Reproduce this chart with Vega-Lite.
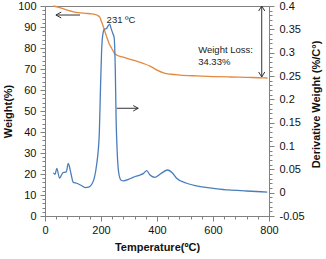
{
  "$schema": "https://vega.github.io/schema/vega-lite/v6.json",
  "width": 224,
  "height": 210,
  "autosize": "none",
  "padding": {"left": 45, "top": 6, "right": 57, "bottom": 43},
  "config": {
    "font": "Liberation Sans",
    "view": {"stroke": "#808080", "strokeWidth": 1},
    "axis": {
      "grid": false,
      "domainColor": "#808080",
      "tickColor": "#808080",
      "labelColor": "#111111",
      "labelFontSize": 11,
      "labelFont": "Liberation Sans",
      "titleFont": "Liberation Sans",
      "titleFontSize": 11,
      "titleFontWeight": "bold",
      "titleColor": "#111111"
    }
  },
  "datasets": {
    "tga": [
      {"T": 30, "W": 100}, {"T": 50, "W": 99.4}, {"T": 71, "W": 98.4}, {"T": 95, "W": 97.5},
      {"T": 119, "W": 96.8}, {"T": 145, "W": 96.5}, {"T": 167, "W": 96.3}, {"T": 185, "W": 95.7},
      {"T": 195, "W": 94.8}, {"T": 202, "W": 92.5}, {"T": 210, "W": 89.5}, {"T": 220, "W": 85.4},
      {"T": 230, "W": 81.8}, {"T": 238, "W": 79.9}, {"T": 248, "W": 77.5}, {"T": 256, "W": 76.7},
      {"T": 268, "W": 76}, {"T": 280, "W": 75.6}, {"T": 304, "W": 74.6}, {"T": 327, "W": 73.8},
      {"T": 350, "W": 72.7}, {"T": 375, "W": 71.4}, {"T": 400, "W": 69.5}, {"T": 423, "W": 68.2},
      {"T": 450, "W": 67.5}, {"T": 482, "W": 67.1}, {"T": 542, "W": 66.7}, {"T": 600, "W": 66.4},
      {"T": 661, "W": 66.2}, {"T": 720, "W": 66.0}, {"T": 780, "W": 65.8}, {"T": 795, "W": 65.7}
    ],
    "dtg": [
      {"T": 30, "D": 0.0427}, {"T": 36, "D": 0.0391}, {"T": 42, "D": 0.0522}, {"T": 52, "D": 0.031},
      {"T": 62, "D": 0.0414}, {"T": 69, "D": 0.0436}, {"T": 76, "D": 0.0445}, {"T": 83, "D": 0.0625},
      {"T": 93, "D": 0.04}, {"T": 101, "D": 0.022}, {"T": 113, "D": 0.0202}, {"T": 131, "D": 0.0148},
      {"T": 145, "D": 0.0108}, {"T": 155, "D": 0.0117}, {"T": 167, "D": 0.018}, {"T": 176, "D": 0.031},
      {"T": 185, "D": 0.0625}, {"T": 190, "D": 0.0895}, {"T": 194, "D": 0.128}, {"T": 198, "D": 0.22},
      {"T": 202, "D": 0.301}, {"T": 206, "D": 0.337}, {"T": 212, "D": 0.35}, {"T": 220, "D": 0.352},
      {"T": 227, "D": 0.359}, {"T": 231, "D": 0.3613}, {"T": 236, "D": 0.352}, {"T": 242, "D": 0.3415},
      {"T": 247, "D": 0.3325}, {"T": 251, "D": 0.265}, {"T": 254, "D": 0.157}, {"T": 258, "D": 0.085},
      {"T": 264, "D": 0.04}, {"T": 272, "D": 0.0265}, {"T": 280, "D": 0.0252}, {"T": 300, "D": 0.0288},
      {"T": 315, "D": 0.0328}, {"T": 339, "D": 0.0378}, {"T": 352, "D": 0.0414}, {"T": 363, "D": 0.0472},
      {"T": 375, "D": 0.0378}, {"T": 393, "D": 0.0328}, {"T": 415, "D": 0.0414}, {"T": 438, "D": 0.0486},
      {"T": 455, "D": 0.0423}, {"T": 470, "D": 0.031}, {"T": 506, "D": 0.0202}, {"T": 554, "D": 0.013},
      {"T": 601, "D": 0.0094}, {"T": 655, "D": 0.0058}, {"T": 720, "D": 0.0036}, {"T": 794, "D": 0.0013}
    ],
    "arrows": [
      {"id": "a1", "k": 0, "T": 125, "W": 95.7}, {"id": "a1", "k": 1, "T": 39, "W": 95.7},
      {"id": "a2", "k": 0, "T": 58, "W": 97.1}, {"id": "a2", "k": 1, "T": 39, "W": 95.7}, {"id": "a2", "k": 2, "T": 58, "W": 94.3},
      {"id": "a3", "k": 0, "T": 256, "W": 51.3}, {"id": "a3", "k": 1, "T": 333, "W": 51.3},
      {"id": "a4", "k": 0, "T": 315, "W": 52.6}, {"id": "a4", "k": 1, "T": 333, "W": 51.3}, {"id": "a4", "k": 2, "T": 315, "W": 50.0},
      {"id": "a5", "k": 0, "T": 774, "W": 100}, {"id": "a5", "k": 1, "T": 774, "W": 66.2},
      {"id": "a6", "k": 0, "T": 763, "W": 97.6}, {"id": "a6", "k": 1, "T": 774, "W": 100}, {"id": "a6", "k": 2, "T": 785, "W": 97.6},
      {"id": "a7", "k": 0, "T": 763, "W": 68.6}, {"id": "a7", "k": 1, "T": 774, "W": 66.2}, {"id": "a7", "k": 2, "T": 785, "W": 68.6}
    ],
    "notes": [
      {"T": 220, "W": 93.3, "text": "231 ºC"},
      {"T": 547, "W": 79.0, "text": "Weight Loss:"},
      {"T": 547, "W": 73.4, "text": "34.33%"}
    ]
  },
  "encoding": {
    "x": {
      "field": "T", "type": "quantitative",
      "scale": {"domain": [0, 800], "nice": false},
      "axis": {
        "title": "Temperature(ºC)",
        "values": [0, 40, 80, 120, 160, 200, 240, 280, 320, 360, 400, 440, 480, 520, 560, 600, 640, 680, 720, 760, 800],
        "labelExpr": "round(datum.value) % 200 == 0 ? datum.label : ''",
        "labelOverlap": false,
        "labelFlush": false,
        "tickSize": {"condition": {"test": "round(datum.value) % 200 == 0", "value": 5}, "value": 3},
        "labelPadding": 3,
        "titlePadding": 6
      }
    }
  },
  "layer": [
    {
      "encoding": {
        "y": {
          "field": "W", "type": "quantitative",
          "scale": {"domain": [0, 100], "nice": false},
          "axis": {
            "title": "Weight(%)",
            "orient": "left",
            "values": [0, 2, 4, 6, 8, 10, 12, 14, 16, 18, 20, 22, 24, 26, 28, 30, 32, 34, 36, 38, 40, 42, 44, 46, 48, 50, 52, 54, 56, 58, 60, 62, 64, 66, 68, 70, 72, 74, 76, 78, 80, 82, 84, 86, 88, 90, 92, 94, 96, 98, 100],
            "labelExpr": "round(datum.value) % 10 == 0 ? datum.label : ''",
            "labelOverlap": false,
            "labelFlush": false,
            "tickSize": {"condition": {"test": "round(datum.value) % 10 == 0", "value": 5}, "value": 3},
            "labelPadding": 4,
            "titleX": -37,
            "titleY": 105,
            "titleAngle": -90,
            "titleBaseline": "middle",
            "titleAlign": "center"
          }
        }
      },
      "layer": [
        {
          "data": {"name": "tga"},
          "mark": {"type": "line", "color": "#E3893F", "strokeWidth": 1.3, "interpolate": "monotone"}
        },
        {
          "data": {"name": "arrows"},
          "mark": {"type": "line", "color": "#333333", "strokeWidth": 1},
          "encoding": {
            "detail": {"field": "id"},
            "order": {"field": "k"}
          }
        },
        {
          "data": {"name": "notes"},
          "mark": {"type": "text", "align": "left", "baseline": "middle", "fontSize": 9.5, "color": "#222222", "font": "Liberation Sans"},
          "encoding": {
            "text": {"field": "text"}
          }
        }
      ]
    },
    {
      "data": {"name": "dtg"},
      "mark": {"type": "line", "color": "#4A7EBB", "strokeWidth": 1.3, "interpolate": "monotone"},
      "encoding": {
        "y": {
          "field": "D", "type": "quantitative",
          "scale": {"domain": [-0.05, 0.4], "nice": false, "zero": false},
          "axis": {
            "title": "Derivative Weight (%/C°)",
            "orient": "right",
            "values": [-0.05, -0.04, -0.03, -0.02, -0.01, 0, 0.01, 0.02, 0.03, 0.04, 0.05, 0.06, 0.07, 0.08, 0.09, 0.1, 0.11, 0.12, 0.13, 0.14, 0.15, 0.16, 0.17, 0.18, 0.19, 0.2, 0.21, 0.22, 0.23, 0.24, 0.25, 0.26, 0.27, 0.28, 0.29, 0.3, 0.31, 0.32, 0.33, 0.34, 0.35, 0.36, 0.37, 0.38, 0.39, 0.4],
            "labelExpr": "round(datum.value * 100) % 5 == 0 ? replace(format(datum.value, '~g'), '\u2212', '-') : ''",
            "labelOverlap": false,
            "tickSize": {"condition": {"test": "round(datum.value * 100) % 5 == 0", "value": 5}, "value": 3},
            "labelPadding": 5,
            "titleX": 47,
            "titleY": 98,
            "titleAngle": -90,
            "titleBaseline": "middle",
            "titleAlign": "center"
          }
        }
      }
    }
  ],
  "resolve": {"scale": {"y": "independent"}}
}
